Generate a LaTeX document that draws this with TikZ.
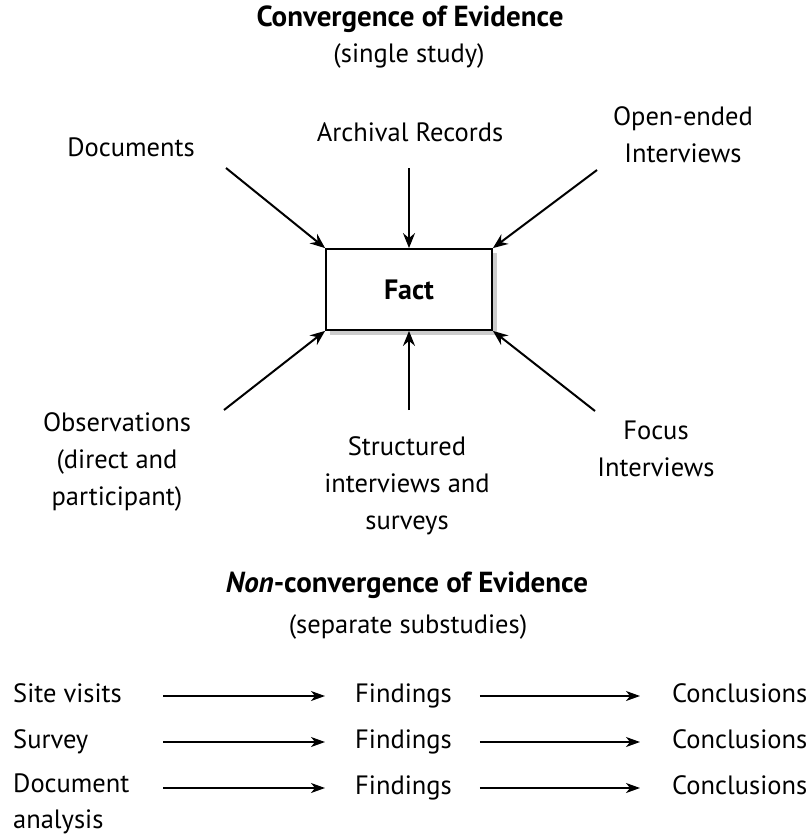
\documentclass[tikz,border=0pt]{standalone}
\usepackage{fontspec}
\setmainfont{PT Sans}
\usetikzlibrary{arrows.meta}
\begin{document}
\begin{tikzpicture}[x=1pt,y=-1pt,
  txt/.style={inner sep=0pt, font=\fontsize{26.5}{37}\selectfont, align=center},
  head/.style={inner sep=0pt, font=\fontsize{29}{34}\selectfont\bfseries},
  rowtxt/.style={inner sep=0pt, font=\fontsize{26.5}{37}\selectfont, align=left,
    text height=19pt, text depth=6.5pt},
  factbox/.style={draw, line width=1.8pt, fill=white, minimum width=166pt,
    minimum height=81pt, inner sep=0pt, font=\fontsize{28}{32}\selectfont\bfseries},
  inarrow/.style={line width=2pt, -{Stealth[length=15pt,width=12pt,inset=5pt]}},
  flowarrow/.style={line width=1.4pt, -{Stealth[length=14pt,width=10pt,inset=4pt]}}
]
\useasboundingbox (0,0) rectangle (811,840);

% ---- convergence of evidence ----
\node[head] (title1) at (410,19) {Convergence of Evidence};
\node[txt] (sub1) at (409,56) {(single study)};

\fill[gray!40] (330,253) rectangle (497,335);
\node[factbox] (fact) at (409,289.5) {Fact};

\node[txt] (docs) at (131,147) {Documents};
\node[txt] (arch) at (410,132) {Archival Records};
\node[txt] (open) at (683,134.5) {Open-ended\\Interviews};
\node[txt] (obs) at (117,462) {Observations\\(direct and\\participant)};
\node[txt] (struct) at (407,485.5) {Structured\\interviews and\\surveys};
\node[txt] (focus) at (656,448.5) {Focus\\Interviews};

\coordinate (tdocs) at (226,168);
\coordinate (tarch) at (409,168);
\coordinate (topen) at (597,170);
\coordinate (tobs) at (224,410);
\coordinate (tstruct) at (409,410);
\coordinate (tfocus) at (595,411);

\draw[inarrow] (tdocs) -- (fact.north west);
\draw[inarrow] (tarch) -- (fact.north);
\draw[inarrow] (topen) -- (fact.north east);
\draw[inarrow] (tobs) -- (fact.south west);
\draw[inarrow] (tstruct) -- (fact.south);
\draw[inarrow] (tfocus) -- (fact.south east);

% ---- non-convergence of evidence ----
\node[head] (title2) at (407,585) {\itshape Non\upshape-convergence of Evidence};
\node[txt] (sub2) at (408,627) {(separate substudies)};

\node[rowtxt, anchor=west] (s1) at (13,696) {Site visits};
\node[rowtxt, anchor=west] (s2) at (13,742) {Survey};
\node[inner sep=0pt, font=\fontsize{26.5}{36}\selectfont, align=left, anchor=north west] (s3) at (13,774) {Document\\analysis};

\node[rowtxt, anchor=west] (f1) at (355,696) {Findings};
\node[rowtxt, anchor=west] (f2) at (355,742) {Findings};
\node[rowtxt, anchor=west] (f3) at (355,788) {Findings};

\node[rowtxt, anchor=west] (c1) at (672,696) {Conclusions};
\node[rowtxt, anchor=west] (c2) at (672,742) {Conclusions};
\node[rowtxt, anchor=west] (c3) at (672,788) {Conclusions};

\coordinate (t1) at (163,696);
\coordinate (t2) at (163,742);
\coordinate (t3) at (163,788);

\draw[flowarrow, shorten >=30pt] (t1) -- (f1);
\draw[flowarrow, shorten >=30pt] (t2) -- (f2);
\draw[flowarrow, shorten >=30pt] (t3) -- (f3);
\draw[flowarrow, shorten <=28pt, shorten >=32pt] (f1) -- (c1);
\draw[flowarrow, shorten <=28pt, shorten >=32pt] (f2) -- (c2);
\draw[flowarrow, shorten <=28pt, shorten >=32pt] (f3) -- (c3);
\end{tikzpicture}
\end{document}
